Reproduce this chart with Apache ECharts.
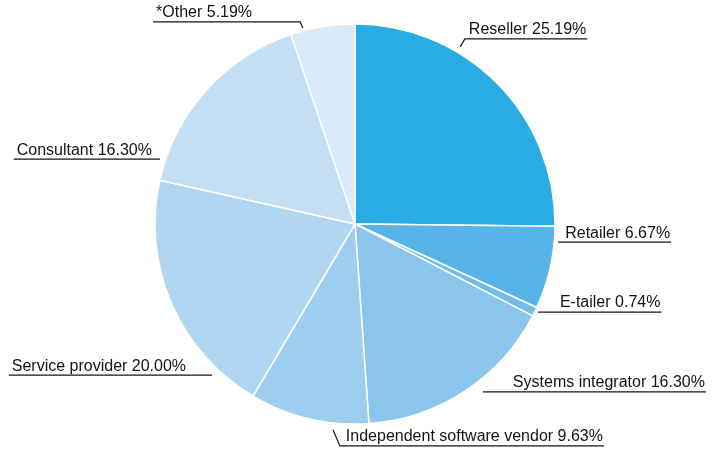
<!DOCTYPE html>
<html>
<head>
<meta charset="utf-8">
<script src="https://cdn.jsdelivr.net/npm/echarts@6/dist/echarts.min.js"></script>
<style>
  html, body { margin: 0; padding: 0; background: #ffffff; }
  #chart { width: 719px; height: 450px; }
</style>
</head>
<body>
<div id="chart"></div>
<script>
// Partner types, clockwise from 12 o'clock
const categories = ['Reseller', 'Retailer', 'E-tailer', 'Systems integrator',
  'Independent software vendor', 'Service provider', 'Consultant', '*Other'];
const shares = [25.19, 6.67, 0.74, 16.30, 9.63, 20.00, 16.30, 5.19];
const colors = ['#2AABE3', '#57B4E8', '#71BCEA', '#8AC5EC', '#9DCEEF', '#B1D6F1', '#C4DEF3', '#D8E9F7'];

// Pie geometry
const CX = 355, CY = 224, R = 200;

// Label placement around the pie: knee angle (deg clockwise from top), knee radius
// (fraction of R), optional leader start (angle, radius), which side the text sits on,
// and the gap between knee and text.
const labelPlacement = [
  { angle: 30.7,  rKnee: 1.076, start: [30.7, 1.03],   side: 'right', gap: 4 },
  { angle: 95.1,  rKnee: 1.02,  start: null,           side: 'right', gap: 7 },
  { angle: 115.7, rKnee: 1.015, start: null,           side: 'right', gap: 22 },
  { angle: 142.7, rKnee: 1.055, start: null,           side: 'right', gap: 30 },
  { angle: 183.9, rKnee: 1.112, start: [186.1, 1.035], side: 'right', gap: 6 },
  { angle: 223.4, rKnee: 1.04,  start: null,           side: 'left',  gap: 26 },
  { angle: 288.4, rKnee: 1.028, start: null,           side: 'left',  gap: 8 },
  { angle: 344.8, rKnee: 1.047, start: [345.1, 1.014], side: 'left',  gap: 48 }
];

function polar(angleDeg, rFrac) {
  const a = angleDeg * Math.PI / 180;
  return [CX + R * rFrac * Math.sin(a), CY - R * rFrac * Math.cos(a)];
}

const chart = echarts.init(document.getElementById('chart'), null, { renderer: 'canvas' });

const option = {
  animation: false,
  backgroundColor: '#ffffff',
  series: [{
    type: 'pie',
    center: [CX, CY],
    radius: [0, R],
    startAngle: 90,
    clockwise: true,
    avoidLabelOverlap: false,
    itemStyle: { borderColor: '#ffffff', borderWidth: 1.5 },
    label: {
      show: true,
      position: 'outside',
      color: '#141414',
      fontFamily: 'Liberation Sans, Arial, Helvetica, sans-serif',
      fontSize: 16,
      formatter: p => p.name + ' ' + p.value.toFixed(2) + '%'
    },
    labelLine: {
      show: true,
      length: 10,
      length2: 10,
      smooth: false,
      lineStyle: { color: '#141414', width: 1.2 }
    },
    emphasis: { disabled: true },
    labelLayout: function (params) {
      const pl = labelPlacement[params.dataIndex];
      const knee = polar(pl.angle, pl.rKnee);
      const start = pl.start ? polar(pl.start[0], pl.start[1]) : knee.slice();
      const w = params.labelRect.width;
      let tx, lineEnd;
      if (pl.side === 'right') {
        tx = knee[0] + pl.gap;
        lineEnd = tx + w + 1;
      } else {
        tx = knee[0] - pl.gap - w;
        lineEnd = tx - 3;
      }
      return {
        x: tx,
        y: knee[1] - 1,
        align: 'left',
        verticalAlign: 'bottom',
        labelLinePoints: [start, knee, [lineEnd, knee[1]]]
      };
    },
    data: categories.map((c, i) => ({
      name: c,
      value: shares[i],
      itemStyle: { color: colors[i] }
    }))
  }]
};

chart.setOption(option);
</script>
</body>
</html>
